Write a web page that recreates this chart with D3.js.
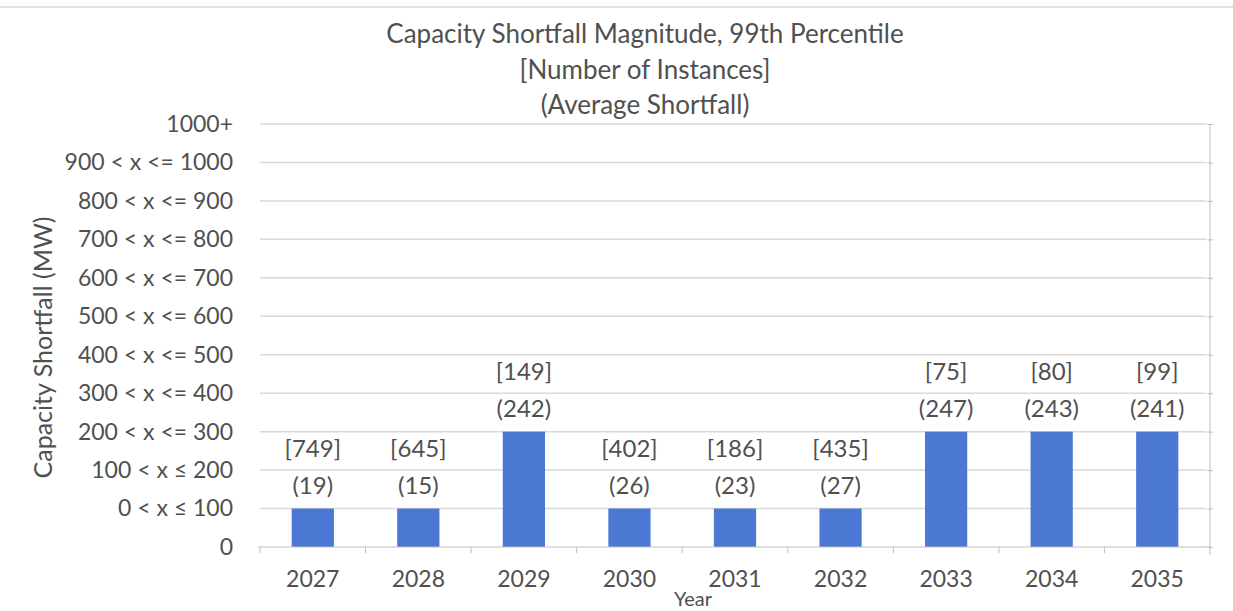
<!DOCTYPE html>
<html lang="en">
<head>
  <meta charset="UTF-8">
  <title>Capacity Shortfall Magnitude</title>
  <style>
  body { margin: 0; background: #fff; }
  #chart { display: block; }
  text { font-family: Lato, "Open Sans", sans-serif; fill: #505050; }
  </style>
</head>
<body>
<svg id="chart"></svg>
<script src="https://d3js.org/d3.v7.min.js"></script>
<script>
// Chart data
const years = ["2027", "2028", "2029", "2030", "2031", "2032", "2033", "2034", "2035"];
const binIndex = [1, 1, 3, 1, 1, 1, 3, 3, 3];
const instances = [749, 645, 149, 402, 186, 435, 75, 80, 99];
const avgShortfall = [19, 15, 242, 26, 23, 27, 247, 243, 241];
const binLabels = ["0", "0 < x \u2264 100", "100 < x \u2264 200", "200 < x <= 300", "300 < x <= 400",
  "400 < x <= 500", "500 < x <= 600", "600 < x <= 700", "700 < x <= 800", "800 < x <= 900",
  "900 < x <= 1000", "1000+"];
const titleLines = ["Capacity Shortfall Magnitude, 99th Percentile", "[Number of Instances]", "(Average Shortfall)"];

const W = 1233, H = 611;
const margin = { top: 124, right: 23, bottom: 64, left: 260 };
const width = W - margin.left - margin.right;
const height = H - margin.top - margin.bottom;

const root = d3.select("#chart").attr("width", W).attr("height", H);

// thin frame line at the top
root.append("line")
  .attr("x1", 0).attr("x2", W).attr("y1", 7).attr("y2", 7)
  .attr("stroke", "#d9d9d9").attr("stroke-width", 1.5);

const svg = root.append("g").attr("transform", `translate(${margin.left},${margin.top})`);

const x = d3.scaleBand().domain(years).range([0, width]).paddingInner(0.6).paddingOuter(0.3);
const xb = d3.scaleBand().domain(years).range([0, width]);
const y = d3.scaleLinear().domain([0, binLabels.length - 1]).range([height, 0]);

// gridlines
svg.append("g")
  .selectAll("line")
  .data(d3.range(1, binLabels.length))
  .enter().append("line")
  .attr("x1", 0).attr("x2", width - 4)
  .attr("y1", d => y(d)).attr("y2", d => y(d))
  .attr("stroke", "#d9d9d9").attr("stroke-width", 1.5);

// y axis labels
const yAxis = d3.axisLeft(y)
  .tickValues(d3.range(0, binLabels.length))
  .tickFormat(d => binLabels[d])
  .tickSize(0).tickPadding(27);
svg.append("g").call(yAxis)
  .call(g => g.select(".domain").remove())
  .selectAll("text")
  .style("font-size", "23px")
  .attr("fill", "#505050");

// right axis line with small ticks
const rAxis = d3.axisRight(y).tickValues(d3.range(0, binLabels.length)).tickSize(3).tickFormat("");
svg.append("g")
  .attr("transform", `translate(${width},0)`)
  .call(rAxis)
  .call(g => g.selectAll("line").attr("stroke", "#bfbfbf").attr("x1", -3))
  .call(g => g.select(".domain").attr("stroke", "#bfbfbf").attr("d", `M0,0V${height + 8}`));

// bars
svg.selectAll(".bar")
  .data(years)
  .enter().append("rect")
  .attr("class", "bar")
  .attr("x", d => x(d))
  .attr("width", x.bandwidth())
  .attr("y", (d, i) => y(binIndex[i]))
  .attr("height", (d, i) => height - y(binIndex[i]))
  .attr("fill", "#4a78d2");

// x axis
const xAxis = d3.axisBottom(xb).tickSize(0).tickPadding(24);
const xg = svg.append("g").attr("transform", `translate(0,${height})`).call(xAxis);
xg.select(".domain").attr("stroke", "#bfbfbf").attr("d", `M-2,0H${width}`);
xg.selectAll("text").style("font-size", "23px").attr("fill", "#505050");
xg.selectAll(".sep")
  .data(years)
  .enter().append("line")
  .attr("class", "sep")
  .attr("x1", d => xb(d)).attr("x2", d => xb(d))
  .attr("y1", 0).attr("y2", 6)
  .attr("stroke", "#bfbfbf");

// data labels
const lbl = svg.selectAll(".lbl")
  .data(years)
  .enter().append("g")
  .attr("class", "lbl")
  .attr("transform", (d, i) => `translate(${x(d) + x.bandwidth() / 2},${y(binIndex[i])})`);
lbl.append("text")
  .attr("text-anchor", "middle").attr("y", -61)
  .attr("dominant-baseline", "central")
  .style("font-size", "24px")
  .text((d, i) => `[${instances[i]}]`);
lbl.append("text")
  .attr("text-anchor", "middle").attr("y", -24)
  .attr("dominant-baseline", "central")
  .style("font-size", "24px")
  .text((d, i) => `(${avgShortfall[i]})`);

// title
root.append("g").selectAll("text")
  .data(titleLines)
  .enter().append("text")
  .attr("x", 645)
  .attr("y", (d, i) => 33 + i * 35.5)
  .attr("dominant-baseline", "central")
  .attr("text-anchor", "middle")
  .style("font-size", "26px")
  .text(d => d);

// axis titles
root.append("text")
  .attr("transform", `translate(42,${margin.top + height / 2 + 12}) rotate(-90)`)
  .attr("text-anchor", "middle")
  .attr("dominant-baseline", "central")
  .style("font-size", "25px")
  .text("Capacity Shortfall (MW)");

root.append("text")
  .attr("x", 693).attr("y", 598)
  .attr("text-anchor", "middle")
  .attr("dominant-baseline", "central")
  .style("font-size", "20px")
  .text("Year");
</script>
</body>
</html>
